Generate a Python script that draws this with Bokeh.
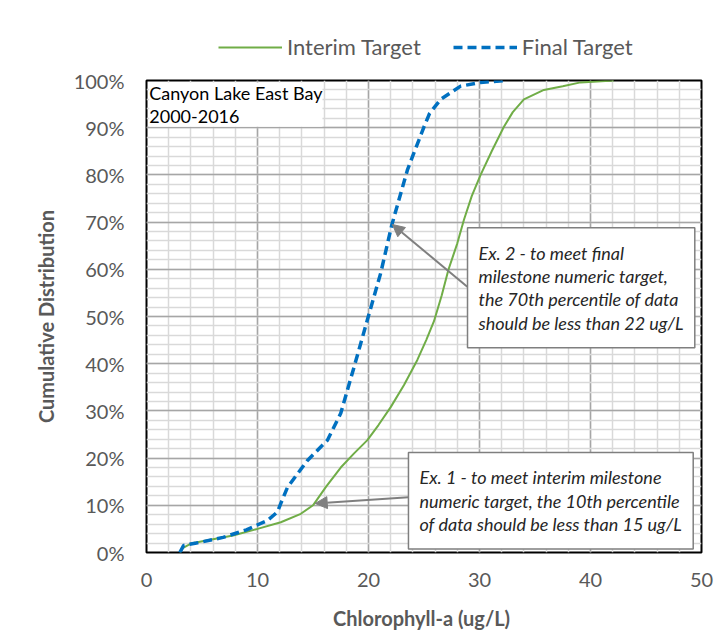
from bokeh.plotting import figure
from bokeh.layouts import column
from bokeh.models import (Legend, LegendItem, Label, Arrow, NormalHead, Range1d,
                          FixedTicker)
from bokeh.embed import file_html
from bokeh.resources import INLINE

# ---- data ----
interim_x = [3.0, 3.3, 4.0, 5.5, 7.8, 10.0, 12.1, 13.9, 15.0, 16.2, 17.5, 18.7, 19.9,
             20.9, 22.0, 23.2, 24.4, 25.2, 25.9, 26.6, 27.2, 28.0, 28.6, 29.3, 30.1,
             31.1, 32.2, 33.0, 34.0, 35.8, 37.5, 39.1, 42.1]
interim_y = [0.0, 1.0, 1.9, 2.6, 3.6, 5.0, 6.4, 8.2, 10.0, 14.0, 18.0, 21.0, 23.8,
             27.0, 30.8, 35.5, 40.8, 45.0, 49.0, 54.5, 59.9, 65.5, 70.5, 75.5, 80.0,
             85.0, 90.2, 93.3, 96.0, 98.0, 98.8, 99.6, 100.0]

final_x = [3.0, 3.35, 4.5, 6.9, 9.0, 10.9, 11.8, 12.1, 12.7, 14.5, 16.3, 17.5, 18.7,
           19.9, 21.1, 22.1, 23.5, 24.1, 25.0, 25.5, 26.5, 28.3, 30.1, 32.5]
final_y = [0.0, 1.5, 2.0, 3.2, 4.8, 6.8, 8.6, 10.4, 13.8, 19.5, 23.8, 29.5, 39.3,
           49.3, 59.2, 69.4, 81.0, 84.7, 90.2, 93.0, 96.0, 98.8, 99.6, 100.0]

y_ticks = [0, 10, 20, 30, 40, 50, 60, 70, 80, 90, 100]
y_tick_labels = ["0%", "10%", "20%", "30%", "40%", "50%", "60%", "70%", "80%", "90%", "100%"]
x_ticks = [0, 10, 20, 30, 40, 50]

series_names = ["Interim Target", "Final Target"]
site_text = "Canyon Lake East Bay\n2000-2016"
note1 = "Ex. 1 -  to meet interim milestone\nnumeric target, the 10th percentile\nof data should be less than 15 ug/L"
note2 = "Ex. 2 -  to meet final\nmilestone numeric target,\nthe 70th percentile of data\nshould be less than 22 ug/L"
note1_point = (15.0, 10.0)
note2_point = (22.0, 70.0)

FONT = "Lato"
GREY = "#595959"
GREEN = "#70ad47"
BLUE = "#0070c0"

# ---------- legend strip (series drawn out of view, only the legend shows) ----------
lf = figure(width=727, height=60, output_backend="svg", toolbar_location=None,
            min_border_left=146, min_border_right=26, min_border_top=0, min_border_bottom=0,
            x_range=Range1d(0, 50), y_range=Range1d(500, 600))
lf.axis.visible = False
lf.grid.visible = False
lf.outline_line_color = None
l1 = lf.line(interim_x, interim_y, line_color=GREEN, line_width=2)
l2 = lf.line(final_x, final_y, line_color=BLUE, line_width=3.5, line_dash="9 5")
legend = Legend(items=[LegendItem(label=series_names[0], renderers=[l1]),
                       LegendItem(label=series_names[1], renderers=[l2])],
                orientation="horizontal", location=(72, 0),
                glyph_width=64, glyph_height=20, label_standoff=5, spacing=32,
                padding=0, margin=0, border_line_color=None, background_fill_alpha=0,
                label_text_font=FONT, label_text_font_size="22px", label_text_color=GREY)
lf.add_layout(legend, "center")

# ---------- main chart ----------
p = figure(width=727, height=583, x_range=Range1d(0, 50), y_range=Range1d(0, 100),
           output_backend="svg", toolbar_location=None,
           min_border_left=146, min_border_right=26, min_border_top=20, min_border_bottom=91)
p.background_fill_color = "white"
p.border_fill_color = "white"
p.outline_line_color = "black"
p.outline_line_width = 2

for g in (p.xgrid, p.ygrid):
    g.grid_line_color = "#a6a6a6"
    g.grid_line_width = 1.5
    g.minor_grid_line_color = "#d9d9d9"
    g.minor_grid_line_width = 1.5

p.xaxis.ticker = FixedTicker(ticks=x_ticks, minor_ticks=list(range(0, 51, 2)))
p.yaxis.ticker = FixedTicker(ticks=y_ticks, minor_ticks=list(range(0, 101, 2)))
p.yaxis.major_label_overrides = {t: l for t, l in zip(y_ticks, y_tick_labels)}

for ax in (p.xaxis, p.yaxis):
    ax.axis_line_color = None
    ax.major_tick_line_color = None
    ax.minor_tick_line_color = None
    ax.major_tick_out = 0
    ax.major_tick_in = 0
    ax.minor_tick_out = 0
    ax.minor_tick_in = 0
    ax.major_label_text_font = FONT
    ax.major_label_text_font_size = "20px"
    ax.major_label_text_color = GREY
    ax.axis_label_text_font = FONT
    ax.axis_label_text_font_style = "bold"
    ax.axis_label_text_color = GREY

p.xaxis.axis_label = "Chlorophyll-a  (ug/L)"
p.yaxis.axis_label = "Cumulative Distribution"
p.xaxis.axis_label_text_font_size = "20px"
p.yaxis.axis_label_text_font_size = "20px"
p.yaxis.major_label_standoff = 22
p.yaxis.axis_label_standoff = 13
p.xaxis.major_label_standoff = 20
p.xaxis.axis_label_standoff = 16

p.line(interim_x, interim_y, line_color=GREEN, line_width=2)
p.line(final_x, final_y, line_color=BLUE, line_width=3.5, line_dash="9 5")

p.add_layout(Label(x=0.25, y=99.6, text=site_text, text_font=FONT, text_font_size="18px",
                   text_color="black", text_align="left", text_baseline="top",
                   background_fill_color="white", text_line_height=1.02))

p.add_layout(Arrow(end=NormalHead(size=12, fill_color="#7f7f7f", line_color="#7f7f7f"),
                   x_start=28.9, y_start=56.3, x_end=note2_point[0] + 0.15, y_end=note2_point[1] - 0.5,
                   line_color="#7f7f7f", line_width=2))
p.add_layout(Arrow(end=NormalHead(size=12, fill_color="#7f7f7f", line_color="#7f7f7f"),
                   x_start=23.6, y_start=11.7, x_end=note1_point[0] + 0.2, y_end=note1_point[1] + 0.4,
                   line_color="#7f7f7f", line_width=2))

p.add_layout(Label(x=28.92, y=68.8, text=note2, text_font=FONT, text_font_size="18px",
                   text_font_style="italic", text_color="#262626",
                   text_align="left", text_baseline="top", text_line_height=1.06,
                   background_fill_color="white", border_line_color="#7f7f7f",
                   border_line_width=1.5, padding=(11, 14)))
p.add_layout(Label(x=23.6, y=21.2, text=note1, text_font=FONT, text_font_size="18px",
                   text_font_style="italic", text_color="#262626",
                   text_align="left", text_baseline="top", text_line_height=1.06,
                   background_fill_color="white", border_line_color="#7f7f7f",
                   border_line_width=1.5, padding=(11, 14)))

layout = column(lf, p, spacing=0)
open("out.html", "w").write(file_html(layout, INLINE))
